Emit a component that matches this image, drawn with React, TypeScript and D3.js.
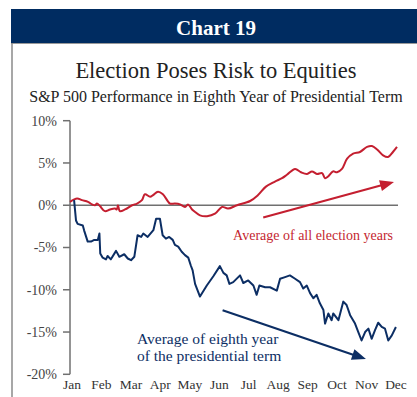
import React from "react";
import * as d3 from "d3";

const months = ["Jan","Feb","Mar","Apr","May","Jun","Jul","Aug","Sep","Oct","Nov","Dec"];
const yTicks = [10, 5, 0, -5, -10, -15, -20];

// time in months since Jan 1 (0..12), value in %
const allYearsT = [0,0.26,0.44,0.66,0.81,0.92,0.99,1.10,1.28,1.47,1.65,1.72,1.76,1.83,2.02,2.28,2.46,2.64,2.75,2.94,3.05,3.23,3.41,3.67,3.85,4.04,4.22,4.33,4.48,4.59,4.77,5.03,5.32,5.58,5.80,6.13,6.61,6.90,7.19,7.52,7.78,7.96,8.26,8.48,8.70,8.88,9.06,9.25,9.36,9.47,9.65,9.80,9.98,10.17,10.39,10.64,10.90,11.08,11.27,11.49,11.67,11.85,12.0];
const allYearsV = [0.4,0.8,0.6,0.4,0.1,0.0,0.2,-0.1,-0.7,-0.5,-0.4,-0.5,0.0,-0.7,-0.5,0.0,0.2,0.6,1.3,1.0,1.2,1.6,1.3,0.2,0.2,0.1,-0.2,0.1,-0.5,-0.8,-1.2,-1.3,-1.0,-0.2,-0.4,0.0,0.5,1.2,2.2,2.8,3.2,3.6,4.3,3.9,3.7,4.0,3.7,3.8,3.2,3.4,4.0,3.9,4.3,5.5,6.1,6.3,6.9,7.0,6.6,5.9,5.7,6.3,6.9];

const eighthT = [0.15,0.22,0.28,0.47,0.52,0.65,0.77,0.89,1.02,1.08,1.11,1.20,1.32,1.38,1.50,1.69,1.81,1.99,2.12,2.24,2.36,2.48,2.61,2.69,2.85,3.06,3.16,3.30,3.40,3.52,3.64,3.77,3.85,3.97,4.10,4.22,4.34,4.43,4.50,4.59,4.77,5.02,5.26,5.50,5.63,5.75,5.85,5.99,6.24,6.36,6.54,6.73,6.85,6.95,7.16,7.34,7.59,7.71,7.89,8.07,8.26,8.44,8.56,8.69,8.81,8.93,9.05,9.17,9.30,9.36,9.48,9.60,9.66,9.85,10.03,10.15,10.28,10.46,10.58,10.70,10.83,10.95,11.07,11.19,11.31,11.44,11.56,11.68,11.81,11.96];
const eighthV = [0.6,-1.8,-2.2,-2.4,-3.0,-4.3,-4.3,-4.1,-4.1,-3.35,-5.7,-6.2,-6.4,-6.0,-6.4,-5.4,-6.1,-5.8,-6.3,-6.5,-6.1,-3.55,-3.75,-3.35,-3.75,-2.95,-1.6,-1.6,-3.55,-3.95,-3.75,-4.1,-4.7,-4.9,-5.5,-5.9,-6.2,-7.1,-7.7,-9.3,-10.8,-9.5,-8.4,-7.2,-8.0,-8.3,-9.3,-9.1,-8.3,-9.2,-8.9,-9.5,-10.6,-9.5,-9.7,-9.7,-10.1,-8.7,-8.5,-8.3,-8.7,-9.1,-9.85,-9.5,-10.4,-11.0,-10.6,-11.6,-12.4,-14.0,-12.8,-13.6,-12.8,-13.6,-11.4,-11.8,-13.0,-14.0,-15.0,-16.0,-15.0,-14.6,-15.8,-14.8,-13.9,-14.4,-14.6,-16.0,-15.4,-14.4];

// trend arrows in data units [month, %]
const redArrow = [[7.09, -1.45], [11.89, 2.76]];
const blueArrow = [[5.6, -12.42], [10.86, -18.2]];

const RED = "#c41f30";
const BLUE = "#0c2e64";
const NAVY = "#002c61";
const GRAY = "#707070";
const FONT = "'Liberation Serif', 'Times New Roman', serif";

function Arrow({ pts, x, y, color }: any) {
  const x1 = x(pts[0][0]), y1 = y(pts[0][1]);
  const x2 = x(pts[1][0]), y2 = y(pts[1][1]);
  const ang = Math.atan2(y2 - y1, x2 - x1);
  const L = 14, W = 5.5;
  const bx = x2 - L * Math.cos(ang), by = y2 - L * Math.sin(ang);
  const px = -Math.sin(ang), py = Math.cos(ang);
  const head = `M${x2},${y2} L${bx + px * W},${by + py * W} L${bx - px * W},${by - py * W} Z`;
  return (
    <g>
      <line x1={x1} y1={y1} x2={bx + 2 * Math.cos(ang)} y2={by + 2 * Math.sin(ang)} stroke={color} strokeWidth={2.2} />
      <path d={head} fill={color} />
    </g>
  );
}

export default function App() {
  const x = d3.scaleLinear().domain([0, 12]).range([70, 397]);
  const y = d3.scaleLinear().domain([-20, 10]).range([374.3, 120.7]);
  const xm = d3.scalePoint().domain(months).range([72, 396]);

  const redLine = d3.line<number>().x((_, i) => x(allYearsT[i])).y((v) => y(v)).curve(d3.curveCatmullRom.alpha(0.5));
  const blueLine = d3.line<number>().x((_, i) => x(eighthT[i])).y((v) => y(v));

  return (
    <svg width={417} height={397} style={{ position: "absolute", left: 0, top: 0, background: "#fff" }} fontFamily={FONT}>
      <rect x={11} y={9} width={406} height={34} fill={NAVY} />
      <line x1={11} x2={417} y1={43.5} y2={43.5} stroke="#999" strokeWidth={1} />
      <line x1={12} x2={12} y1={43} y2={397} stroke="#8a8a8a" strokeWidth={1.5} />
      <text x={216} y={35} textAnchor="middle" fill="#fff" fontSize={21} fontWeight="bold">Chart 19</text>
      <text x={216} y={78} textAnchor="middle" fill="#222" fontSize={22.5}>Election Poses Risk to Equities</text>
      <text x={216} y={102} textAnchor="middle" fill="#222" fontSize={16}>S&amp;P 500 Performance in Eighth Year of Presidential Term</text>

      {/* y axis */}
      <line x1={70} x2={70} y1={y(10)} y2={y(-20)} stroke={GRAY} strokeWidth={1.5} />
      {yTicks.map((t) => (
        <g key={t}>
          <line x1={63} x2={70} y1={y(t)} y2={y(t)} stroke={GRAY} strokeWidth={1.5} />
          <text x={57} y={y(t)} dy="0.35em" textAnchor="end" fontSize={14} fill="#444">{t}%</text>
        </g>
      ))}
      <line x1={70} x2={398} y1={y(0)} y2={y(0)} stroke={GRAY} strokeWidth={1.6} />
      {months.map((m) => (
        <text key={m} x={xm(m)} y={389} textAnchor="middle" fontSize={13.5} fill="#333">{m}</text>
      ))}

      <path d={redLine(allYearsV) || ""} fill="none" stroke={RED} strokeWidth={2} strokeLinejoin="round" />
      <path d={blueLine(eighthV) || ""} fill="none" stroke={BLUE} strokeWidth={2} strokeLinejoin="round" />

      <Arrow pts={redArrow} x={x} y={y} color={RED} />
      <Arrow pts={blueArrow} x={x} y={y} color={BLUE} />

      <text x={393} y={240} textAnchor="end" fontSize={14} fill={RED}>Average of all election years</text>
      <text x={137} y={344} fontSize={15.5} fill={BLUE}>Average of eighth year</text>
      <text x={137} y={361} fontSize={15.5} fill={BLUE}>of the presidential term</text>
    </svg>
  );
}
